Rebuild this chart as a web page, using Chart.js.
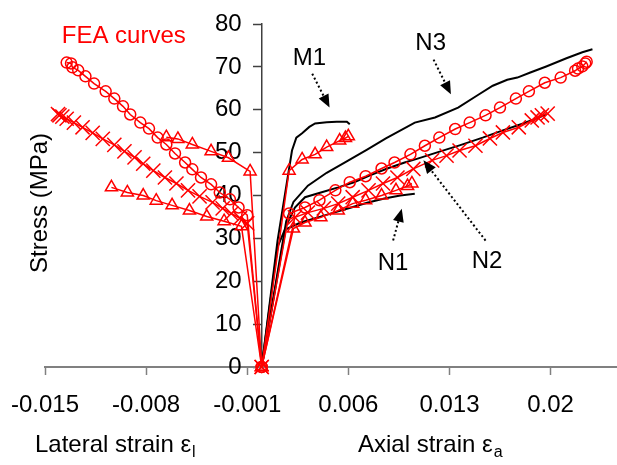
<!DOCTYPE html>
<html>
<head>
<meta charset="utf-8">
<script src="https://cdn.jsdelivr.net/npm/chart.js@4.4.0/dist/chart.umd.min.js"></script>
<style>
  html, body { margin: 0; padding: 0; background: #fff; }
</style>
</head>
<body>
<canvas id="chart" width="617" height="465"></canvas>
<script>
// tick values / labels
const xTicks = [-0.015, -0.008, -0.001, 0.006, 0.013, 0.02];
const xTickLabels = ['-0.015', '-0.008', '-0.001', '0.006', '0.013', '0.02'];
const yTicks = [0, 10, 20, 30, 40, 50, 60, 70, 80];

// experimental curves (axial side, black)
const expM1Strain = [0, 0.0011, 0.0021, 0.0024, 0.0028, 0.0033, 0.0037, 0.0045, 0.0052, 0.0059, 0.0061];
const expM1Stress = [0, 29.5, 50.5, 53.5, 54.5, 56.0, 56.8, 57.1, 57.2, 57.2, 56.6];
const expN3Strain = [0, 0.0017, 0.0022, 0.0032, 0.0045, 0.0058, 0.0073, 0.0086, 0.0106, 0.0120, 0.0136, 0.0150, 0.0160, 0.0170, 0.0177, 0.0186, 0.0197, 0.0211, 0.0222, 0.0229];
const expN3Stress = [0, 34.0, 38.5, 42.3, 45.3, 47.8, 50.7, 53.3, 57.0, 58.2, 60.5, 63.5, 65.6, 67.0, 67.5, 68.7, 70.1, 72.0, 73.4, 74.1];
const expN2Strain = [0, 0.0017, 0.0023, 0.0030, 0.0041, 0.0053, 0.0064, 0.0075, 0.0087, 0.0099, 0.0108, 0.0121, 0.0137, 0.0153, 0.0167, 0.0181, 0.0192, 0.0197];
const expN2Stress = [0, 33.0, 37.2, 39.6, 40.7, 41.9, 43.1, 44.7, 46.3, 47.7, 48.6, 50.0, 51.7, 53.5, 55.2, 56.8, 58.2, 59.0];
const expN1Strain = [0, 0.0011, 0.0016, 0.0027, 0.0039, 0.0050, 0.0062, 0.0073, 0.0085, 0.0096, 0.0106];
const expN1Stress = [0, 28.0, 32.0, 33.7, 34.9, 36.0, 37.2, 38.3, 39.3, 40.0, 40.4];

// FEA curves, axial side
const feaN3AxStrain = [0, 0.0019, 0.0030, 0.0040, 0.0051, 0.0061, 0.0072, 0.0083, 0.0092, 0.0103, 0.0113, 0.0123, 0.0134, 0.0144, 0.0155, 0.0165, 0.0176, 0.0185, 0.0196, 0.0207, 0.0217, 0.0219, 0.0222, 0.0224, 0.0225];
const feaN3AxStress = [0, 35.8, 37.2, 38.9, 41.2, 43.1, 44.5, 46.3, 47.7, 49.6, 51.6, 53.5, 55.5, 57.0, 58.7, 60.5, 62.6, 64.3, 66.3, 67.5, 69.1, 69.6, 70.1, 70.8, 71.2];
const feaN2AxStrain = [0, 0.0023, 0.0032, 0.0043, 0.0053, 0.0063, 0.0074, 0.0084, 0.0094, 0.0105, 0.0118, 0.0128, 0.0137, 0.0148, 0.0158, 0.0167, 0.0178, 0.0187, 0.0191, 0.0194, 0.0198];
const feaN2AxStress = [0, 34.9, 36.0, 37.0, 38.1, 39.6, 41.2, 42.8, 44.2, 46.2, 48.2, 49.3, 50.5, 51.6, 53.3, 54.7, 55.9, 57.5, 58.2, 58.7, 59.1];
const feaN1AxStrain = [0, 0.0022, 0.0030, 0.0041, 0.0053, 0.0063, 0.0072, 0.0083, 0.0093, 0.0101, 0.0104];
const feaN1AxStress = [0, 32.3, 33.7, 34.9, 36.5, 38.1, 38.9, 40.0, 41.2, 42.2, 42.8];
const feaM1AxStrain = [0, 0.0019, 0.0028, 0.0037, 0.0045, 0.0054, 0.0058, 0.0060];
const feaM1AxStress = [0, 45.8, 48.4, 49.6, 51.3, 52.8, 53.4, 53.8];

// FEA curves, lateral side
const feaN3LatStrain = [0, -0.0010, -0.0016, -0.0022, -0.0029, -0.0035, -0.0042, -0.0048, -0.0053, -0.0060, -0.0066, -0.0072, -0.0078, -0.0084, -0.0091, -0.0096, -0.0102, -0.0108, -0.0116, -0.0122, -0.0127, -0.0131, -0.0132, -0.0135];
const feaN3LatStress = [0, 35.4, 37.2, 39.1, 40.7, 42.6, 44.2, 46.1, 47.7, 49.8, 51.9, 53.5, 55.6, 57.0, 58.9, 60.8, 62.6, 64.3, 66.1, 67.8, 69.2, 69.9, 70.8, 71.0];
const feaN2LatStrain = [0, -0.0010, -0.0015, -0.0021, -0.0027, -0.0034, -0.0043, -0.0051, -0.0059, -0.0067, -0.0075, -0.0082, -0.0088, -0.0095, -0.0102, -0.0110, -0.0117, -0.0124, -0.0130, -0.0135, -0.0138, -0.0140, -0.0141];
const feaN2LatStress = [0, 33.5, 34.7, 35.8, 37.0, 38.4, 39.8, 41.2, 42.8, 44.2, 45.8, 47.4, 48.9, 50.3, 51.8, 53.2, 54.6, 55.9, 57.0, 57.9, 58.4, 58.7, 59.0];
const feaN1LatStrain = [0, -0.0014, -0.0026, -0.0038, -0.0050, -0.0062, -0.0073, -0.0082, -0.0093, -0.0104];
const feaN1LatStress = [0, 32.8, 34.0, 35.1, 36.5, 37.7, 38.8, 40.0, 40.7, 41.9];
const feaM1LatStrain = [0, -0.0008, -0.0023, -0.0035, -0.0048, -0.0058, -0.0066];
const feaM1LatStress = [0, 45.6, 48.8, 50.3, 51.9, 53.2, 53.6];

const RED = '#ff0000';
const FONT = '"Liberation Sans", Arial, sans-serif';

// specimen labels and their dotted arrows, in data units
const notes = [
    { text: 'M1', x: 0.0033, y: 72.5 },
    { text: 'N3', x: 0.0117, y: 76.0 },
    { text: 'N1', x: 0.0091, y: 24.6 },
    { text: 'N2', x: 0.0156, y: 25.1 }
];
const arrows = [
    { from: [0.0035, 68.4], to: [0.0047, 60.5] },
    { from: [0.0119, 71.7], to: [0.0131, 63.6] },
    { from: [0.0091, 29.5], to: [0.0097, 36.9] },
    { from: [0.0155, 29.5], to: [0.0112, 48.2] }
];

function pts(xs, ys) {
    return xs.map((v, i) => ({ x: v, y: ys[i] }));
}

function fea(label, xs, ys, style, radius) {
    return {
        label, data: pts(xs, ys), showLine: true, clip: false,
        borderColor: RED, borderWidth: 1.5,
        pointStyle: style, pointRadius: radius, pointBorderWidth: 1.5,
        pointBorderColor: RED, pointBackgroundColor: 'rgba(0,0,0,0)'
    };
}

function expCurve(label, xs, ys) {
    return {
        label, data: pts(xs, ys), showLine: true, clip: false,
        borderColor: '#000', borderWidth: 2, pointRadius: 0
    };
}

const annotations = {
    id: 'annotations',
    afterDraw(chart) {
        const { ctx, scales: { x, y } } = chart;
        ctx.save();
        ctx.font = '24px ' + FONT;
        ctx.textBaseline = 'alphabetic';

        // FEA label
        ctx.fillStyle = RED;
        ctx.textAlign = 'left';
        ctx.fillText('FEA curves', x.getPixelForValue(-0.01384), y.getPixelForValue(77.6) + 8.6);

        ctx.fillStyle = '#000';
        ctx.textAlign = 'center';
        notes.forEach(n => {
            ctx.fillText(n.text, x.getPixelForValue(n.x), y.getPixelForValue(n.y) + 8.6);
        });

        arrows.forEach(a => {
            const x1 = x.getPixelForValue(a.from[0]), y1 = y.getPixelForValue(a.from[1]);
            const x2 = x.getPixelForValue(a.to[0]), y2 = y.getPixelForValue(a.to[1]);
            const ang = Math.atan2(y2 - y1, x2 - x1);
            const head = 13;
            const bx = x2 - Math.cos(ang) * head, by = y2 - Math.sin(ang) * head;
            ctx.strokeStyle = '#000';
            ctx.lineWidth = 2;
            ctx.setLineDash([2, 2.5]);
            ctx.beginPath();
            ctx.moveTo(x1, y1);
            ctx.lineTo(bx, by);
            ctx.stroke();
            ctx.setLineDash([]);
            ctx.beginPath();
            ctx.moveTo(x2, y2);
            ctx.lineTo(bx + Math.sin(ang) * 5.5, by - Math.cos(ang) * 5.5);
            ctx.lineTo(bx - Math.sin(ang) * 5.5, by + Math.cos(ang) * 5.5);
            ctx.closePath();
            ctx.fill();
        });

        // axis titles
        ctx.textAlign = 'left';
        ctx.fillText('Lateral strain ε', 35, 452);
        let w = ctx.measureText('Lateral strain ε').width;
        ctx.font = '16px ' + FONT;
        ctx.fillText('l', 35 + w + 1, 457);
        ctx.font = '24px ' + FONT;
        ctx.fillText('Axial strain ε', 358, 452);
        w = ctx.measureText('Axial strain ε').width;
        ctx.font = '16px ' + FONT;
        ctx.fillText('a', 358 + w + 1, 457);

        ctx.font = '24px ' + FONT;
        ctx.translate(40, 203);
        ctx.rotate(-Math.PI / 2);
        ctx.textAlign = 'center';
        ctx.textBaseline = 'middle';
        ctx.fillText('Stress (MPa)', 0, 0);
        ctx.restore();
    }
};

new Chart(document.getElementById('chart'), {
    type: 'scatter',
    data: {
        datasets: [
            fea('FEA N3 axial', feaN3AxStrain, feaN3AxStress, 'circle', 5.5),
            fea('FEA N3 lateral', feaN3LatStrain, feaN3LatStress, 'circle', 5.5),
            fea('FEA N2 axial', feaN2AxStrain, feaN2AxStress, 'crossRot', 10),
            fea('FEA N2 lateral', feaN2LatStrain, feaN2LatStress, 'crossRot', 10),
            fea('FEA N1 axial', feaN1AxStrain, feaN1AxStress, 'triangle', 7),
            fea('FEA N1 lateral', feaN1LatStrain, feaN1LatStress, 'triangle', 7),
            fea('FEA M1 axial', feaM1AxStrain, feaM1AxStress, 'triangle', 7),
            fea('FEA M1 lateral', feaM1LatStrain, feaM1LatStress, 'triangle', 7),
            expCurve('M1', expM1Strain, expM1Stress),
            expCurve('N3', expN3Strain, expN3Stress),
            expCurve('N2', expN2Strain, expN2Stress),
            expCurve('N1', expN1Strain, expN1Stress)
        ]
    },
    options: {
        responsive: false,
        animation: false,
        layout: { autoPadding: false, padding: { left: 45, right: 0, top: 24, bottom: 0 } },
        plugins: { legend: { display: false }, tooltip: { enabled: false } },
        scales: {
            x: {
                type: 'linear',
                min: -0.015,
                max: 0.0246,
                afterBuildTicks: s => { s.ticks = xTicks.map(v => ({ value: v })); },
                afterFit: s => { s.height = 98; s.paddingLeft = 0; s.paddingRight = 0; },
                ticks: {
                    callback: (v, i) => xTickLabels[i],
                    font: { size: 24, family: FONT },
                    color: '#000',
                    padding: 16,
                    maxRotation: 0
                },
                grid: { drawOnChartArea: false, tickLength: 8, color: '#808080', tickWidth: 1.5 },
                border: { color: '#808080', width: 2 }
            },
            y: {
                type: 'linear',
                min: 0,
                max: 80,
                position: { x: 0 },
                afterBuildTicks: s => { s.ticks = yTicks.map(v => ({ value: v })); },
                afterFit: s => { s.paddingTop = 0; s.paddingBottom = 0; },
                ticks: {
                    // labels sit right-aligned on the axis line, so pad them with spaces
                    callback: v => v + '   ',
                    font: { size: 24, family: FONT },
                    color: '#000'
                },
                grid: { drawOnChartArea: false, tickLength: 8, color: '#404040', tickWidth: 1.5 },
                border: { color: '#404040', width: 1.5 }
            }
        }
    },
    plugins: [annotations]
});
</script>
</body>
</html>
